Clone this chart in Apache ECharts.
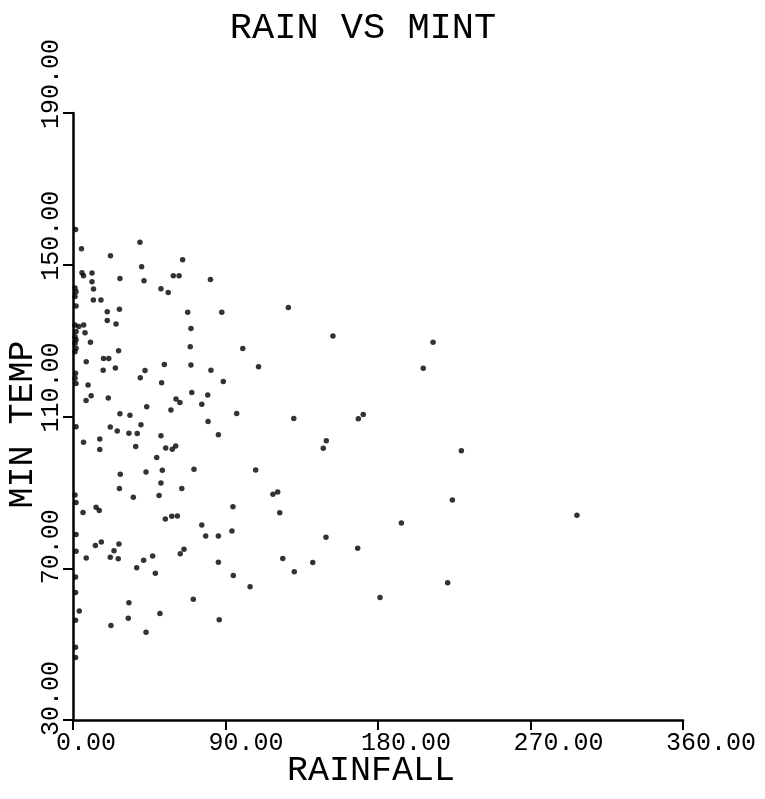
<!DOCTYPE html>
<html><head><meta charset="utf-8">
<script src="https://cdn.jsdelivr.net/npm/echarts@6/dist/echarts.min.js"></script>
<style>html,body{margin:0;padding:0;background:#fff}#c{width:765px;height:799px}</style>
</head><body><div id="c"></div>
<script>
const chartTitle = 'RAIN VS MINT';
const xName = 'RAINFALL';
const yName = 'MIN TEMP';
const xTicks = [0, 90, 180, 270, 360];
const yTicks = [30, 70, 110, 150, 190];

const rainfall = [
  1.5,1.2,1.8,1.2,1.8,1.2,1.8,1.2,1.8,1.2,1.8,1.2,1.5,1.2,1.8,1.8,1.2,1.8,1.8,1.8,1.5,1.5,1.5,1.5,1.5,
  5.0,22.1,39.5,64.7,40.5,5.3,6.2,11.2,27.7,11.2,41.9,59.2,62.6,81.1,12.1,51.9,56.2,12.0,16.5,20.2,27.4,67.7,87.8,127.1,
  20.2,25.4,69.6,3.4,6.3,7.1,153.4,10.3,26.9,69.2,100.2,212.5,206.7,18.0,21.1,7.8,53.9,69.6,109.5,17.8,25.0,42.5,81.4,
  39.7,88.7,52.3,8.9,70.1,79.5,20.8,10.7,7.7,60.8,63.1,76.0,43.5,57.8,96.6,27.7,33.6,130.3,168.4,171.3,40.1,79.7,22.0,
  26.1,33.0,37.9,51.9,85.8,149.5,147.7,6.2,15.8,15.8,37.0,54.7,58.6,60.6,229.2,49.4,27.9,43.1,52.7,71.4,107.8,51.9,27.4,
  64.2,35.6,50.8,118.0,120.8,223.9,13.6,15.5,5.9,94.4,122.0,54.5,58.3,61.6,297.4,193.8,76.0,78.3,85.8,93.8,149.3,13.2,
  16.7,24.2,27.1,65.5,63.3,168.0,7.8,22.0,26.7,47.0,41.7,85.8,123.8,141.5,37.6,48.6,94.6,130.6,104.5,221.1,33.0,71.0,
  181.2,3.7,51.3,32.6,86.3,22.4,43.1
];
const minTemp = [
  159.3,143.9,142.9,141.6,139.1,134.1,132.4,131.0,130.2,129.3,128.0,127.1,121.4,120.1,118.7,107.3,89.3,87.3,78.9,74.5,67.7,63.6,56.3,49.2,46.5,
  154.2,152.4,155.9,151.3,149.5,147.9,147.1,147.8,146.4,145.5,145.8,147.1,147.1,146.1,143.6,143.7,142.7,140.7,140.7,137.6,138.3,137.5,137.5,138.7,
  135.3,134.4,133.2,133.7,134.1,132.1,131.2,129.6,127.3,128.4,127.9,129.6,122.7,125.3,125.3,124.4,123.7,123.6,123.1,122.2,122.8,122.1,122.2,
  120.2,119.2,118.9,118.3,116.3,115.7,114.9,115.5,114.2,114.6,113.7,113.2,112.6,111.7,110.8,110.7,110.3,109.5,109.4,110.5,107.8,108.7,107.2,
  106.2,105.6,105.5,104.9,105.2,103.6,101.6,103.2,104.1,101.3,102.1,101.7,101.4,102.2,101.0,99.2,94.8,95.4,95.8,96.1,95.9,92.5,91.0,
  91.0,88.7,89.2,89.5,90.1,88.0,86.1,85.2,84.7,86.2,84.6,83.0,83.7,83.8,84.0,81.9,81.4,78.5,78.5,79.8,78.2,76.0,
  76.9,74.6,76.4,75.0,73.8,75.3,72.7,72.9,72.5,73.2,72.1,71.6,72.6,71.5,70.1,68.7,68.1,69.1,65.1,66.2,60.9,61.8,
  62.3,58.7,58.1,56.8,56.4,54.9,53.1
];

const points = rainfall.map((r, i) => [r, minTemp[i]]);
const FONT = '"Liberation Mono", "DejaVu Sans Mono", monospace';

const chart = echarts.init(document.getElementById('c'), null, { renderer: 'canvas' });
chart.setOption({
  animation: false,
  backgroundColor: '#ffffff',
  title: {
    text: chartTitle, left: 358, top: 5, textAlign: 'center',
    textStyle: { fontFamily: FONT, fontSize: 37, fontWeight: 'normal', color: '#000' }
  },
  grid: { left: 73, right: 82, top: 113, bottom: 79, containLabel: false, outerBoundsMode: 'none' },
  xAxis: {
    type: 'value',
    min: xTicks[0], max: xTicks[xTicks.length - 1], interval: xTicks[1] - xTicks[0],
    splitLine: { show: false },
    axisLine: { lineStyle: { color: '#000', width: 2.5 } },
    axisTick: { length: 10, lineStyle: { color: '#000', width: 2 } },
    axisLabel: {
      formatter: v => v.toFixed(2), fontFamily: FONT, fontSize: 25, color: '#000',
      align: 'left', margin: 11, padding: [0, 0, 0, -17]
    },
    name: xName, nameLocation: 'middle', nameGap: 33, nameMoveOverlap: false,
    nameTextStyle: { fontFamily: FONT, fontSize: 35, color: '#000', padding: [0, 14, 0, 0] }
  },
  yAxis: {
    type: 'value',
    min: yTicks[0], max: yTicks[yTicks.length - 1], interval: yTicks[1] - yTicks[0],
    splitLine: { show: false },
    axisLine: { lineStyle: { color: '#000', width: 2.5 } },
    axisTick: { length: 10, lineStyle: { color: '#000', width: 2 } },
    axisLabel: {
      formatter: v => v.toFixed(2), fontFamily: FONT, fontSize: 25, color: '#000',
      rotate: 90, align: 'left', verticalAlign: 'middle', margin: 22, padding: [0, 0, 0, -16]
    },
    name: yName, nameLocation: 'middle', nameGap: 33, nameMoveOverlap: false,
    nameTextStyle: { fontFamily: FONT, fontSize: 35, color: '#000', padding: [0, 16, 0, 0] }
  },
  series: [{
    type: 'scatter', data: points, symbol: 'circle', symbolSize: 5.5,
    itemStyle: { color: '#000' }
  }]
});
</script>
</body></html>
